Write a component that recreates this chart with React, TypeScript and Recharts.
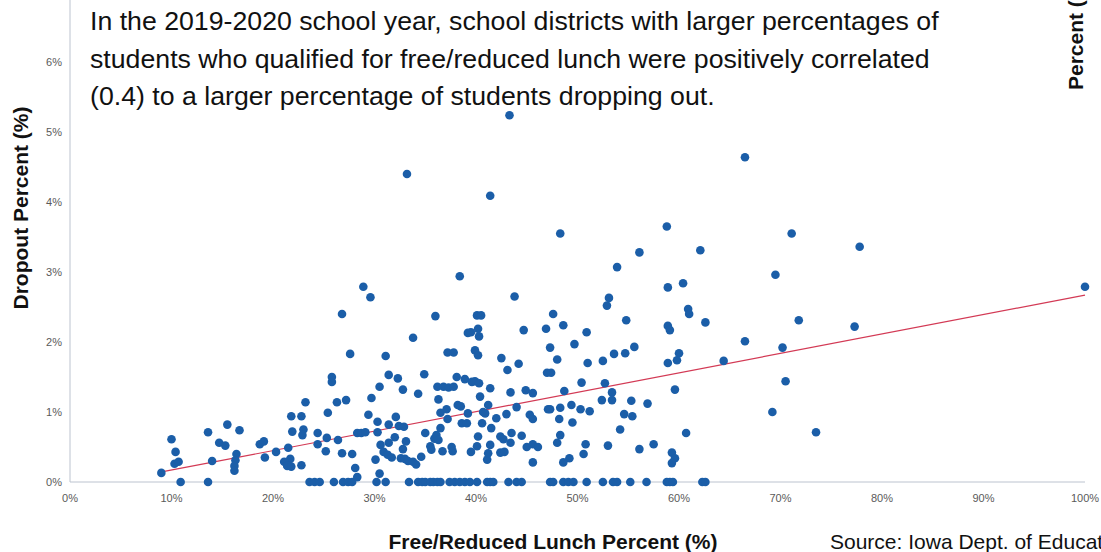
import React from 'react';
import { ScatterChart, Scatter, XAxis, YAxis, ReferenceLine } from 'recharts';

// x = free/reduced lunch %, y = dropout %
const zeroDropoutLunch = [
  10.9, 13.6, 23.6, 24.1, 24.6, 26.0, 26.9, 27.4, 27.8, 30.2, 31.1, 33.4, 34.3, 34.7, 35.0, 35.5,
  35.8, 36.2, 36.5, 37.4, 37.9, 38.4, 38.9, 39.4, 40.1, 41.1, 41.4, 41.7, 43.2, 44.0, 44.5, 47.3,
  47.6, 48.6, 49.1, 49.6, 50.9, 52.5, 53.5, 53.9, 55.2, 56.8, 58.8, 59.1, 59.4, 62.3, 62.6,
];

const lowerDistricts: [number, number][] = [
  [9.0, 0.13], [10.0, 0.61], [10.4, 0.43], [10.3, 0.26], [10.7, 0.29], [13.6, 0.71], [14.0, 0.3],
  [14.7, 0.56], [15.3, 0.52], [15.5, 0.82], [16.7, 0.74], [16.4, 0.4], [16.3, 0.31], [16.2, 0.23],
  [16.2, 0.16], [18.7, 0.54], [19.1, 0.58], [19.2, 0.35], [20.3, 0.43], [21.5, 0.49], [21.7, 0.33],
  [21.1, 0.29], [21.4, 0.23], [21.8, 0.22], [22.8, 0.24], [21.8, 0.94], [22.8, 0.94], [21.9, 0.72],
  [23.0, 0.75], [22.9, 0.67], [23.2, 1.14], [24.4, 0.7], [24.4, 0.54], [25.2, 0.44], [25.4, 0.99],
  [25.3, 0.63], [25.8, 1.43], [25.8, 1.5], [26.3, 1.14], [26.4, 0.6], [27.2, 1.17], [26.8, 0.41],
  [27.8, 0.4], [28.1, 0.2], [28.3, 0.07], [28.3, 0.7], [28.7, 0.7], [29.1, 0.71], [29.7, 1.2],
  [29.4, 0.96], [30.5, 1.36], [30.3, 0.86], [30.3, 0.71], [30.6, 0.53], [30.9, 0.43], [30.1, 0.32],
  [30.5, 0.12], [31.4, 0.82], [32.1, 0.93], [31.3, 0.39], [31.7, 0.35], [32.0, 0.64], [32.4, 0.8],
  [32.9, 0.79], [32.8, 1.32], [32.3, 1.48], [31.4, 0.56], [32.8, 0.47], [33.1, 0.58], [32.6, 0.34],
  [33.0, 0.33], [33.3, 0.3], [33.8, 0.29], [34.1, 0.25], [34.3, 1.26], [35.0, 0.7], [34.6, 0.36],
  [35.5, 0.51], [35.9, 0.62], [36.1, 0.67], [36.3, 0.6], [36.5, 0.77], [36.3, 1.18], [36.2, 1.36],
  [36.8, 1.36], [37.3, 1.35], [37.8, 1.36], [36.5, 0.99], [37.1, 1.04], [37.2, 0.9], [35.6, 0.46],
  [36.7, 0.44], [37.6, 0.5], [37.7, 0.44], [38.2, 1.1], [38.5, 1.08], [38.6, 0.84], [39.1, 0.84],
  [39.2, 0.98], [39.5, 0.43], [40.1, 0.51], [39.6, 1.43], [40.4, 1.22], [40.7, 1.0], [40.9, 0.98],
  [40.2, 0.65], [41.2, 1.1], [41.4, 1.34], [41.4, 0.53], [41.1, 0.32], [40.6, 0.84], [41.5, 0.77],
];

const upperDistricts: [number, number][] = [
  [28.9, 2.79], [29.6, 2.64], [26.8, 2.4], [36.0, 2.37], [39.2, 2.13], [33.8, 2.06], [27.6, 1.83],
  [31.1, 1.8], [37.2, 1.85], [37.8, 1.85], [31.4, 1.53], [34.9, 1.54], [38.1, 1.5], [38.9, 1.47],
  [38.4, 2.94], [43.8, 2.65], [40.1, 2.38], [40.5, 2.38], [39.5, 2.14], [40.2, 2.19], [40.3, 2.08],
  [44.7, 2.17], [39.9, 1.88], [40.2, 1.81], [42.5, 1.77], [43.1, 1.6], [44.2, 1.69], [39.9, 1.44],
  [40.3, 1.41], [33.2, 4.4], [41.4, 4.09], [43.3, 5.24],
];

const higherLunchDistricts: [number, number][] = [
  [48.3, 3.55], [58.8, 3.65], [62.1, 3.31], [56.1, 3.28], [53.9, 3.07], [71.1, 3.55], [69.5, 2.96],
  [58.9, 2.78], [60.4, 2.84], [53.1, 2.63], [52.9, 2.52], [60.9, 2.47], [61.0, 2.4], [62.6, 2.28],
  [47.6, 2.4], [46.9, 2.19], [48.6, 2.24], [47.3, 1.92], [49.7, 1.97], [50.9, 2.14], [54.8, 2.31],
  [55.6, 1.93], [54.7, 1.84], [53.6, 1.83], [52.5, 1.73], [51.0, 1.7], [48.0, 1.75], [47.0, 1.56],
  [47.4, 1.56], [50.4, 1.42], [52.7, 1.41], [58.9, 2.23], [59.1, 2.17], [58.9, 1.7], [60.0, 1.84],
  [59.8, 1.74], [64.4, 1.73], [66.5, 2.01], [70.2, 1.92], [70.5, 1.44], [71.8, 2.31], [59.6, 1.32],
  [66.5, 4.64], [77.8, 3.36], [100, 2.79], [77.3, 2.22], [56.9, 1.12], [69.2, 1.0], [60.7, 0.7],
  [73.5, 0.71], [57.5, 0.54], [43.4, 1.28], [44.9, 1.31], [45.6, 1.27], [48.7, 1.3], [53.4, 1.28],
  [52.4, 1.17], [53.4, 1.17], [55.3, 1.16], [54.6, 0.97], [55.4, 0.94], [54.2, 0.75], [56.1, 0.47],
  [53.0, 0.52], [59.3, 0.42], [59.6, 0.34], [59.3, 0.27], [50.8, 0.54], [50.6, 0.4], [49.2, 0.34],
  [48.6, 0.28], [48.3, 0.67], [48.0, 0.56], [48.2, 0.9], [48.3, 1.06], [49.5, 0.85], [49.4, 1.1],
  [50.3, 1.04], [51.2, 1.01], [47.1, 1.04], [47.3, 1.04], [45.3, 0.96], [45.6, 0.9], [44.0, 1.07],
  [43.0, 0.97], [42.0, 0.91], [43.5, 0.7], [44.5, 0.66], [43.4, 0.56], [42.4, 0.65], [42.7, 0.61],
  [45.0, 0.5], [45.6, 0.54], [46.1, 0.5], [42.4, 0.42], [42.8, 0.43], [41.2, 0.41], [45.6, 0.28],
];

// trendline ends
const trendStart = { x: 8.9, y: 0.14 };
const trendEnd = { x: 100, y: 2.67 };

const xTicks = [0, 10, 20, 30, 40, 50, 60, 70, 80, 90, 100];
const yTicks = [0, 1, 2, 3, 4, 5, 6, 7];

const titleLines = [
  'In the 2019-2020 school year, school districts with larger percentages of',
  'students who qualified for free/reduced lunch were positively correlated',
  '(0.4) to a larger percentage of students dropping out.',
];

const DOT = '#1b5ea8';
const AXIS = '#bcc3cf';
const FONT = '"Liberation Sans", Arial, sans-serif';

const points = [
  ...zeroDropoutLunch.map((x) => ({ x, y: 0 })),
  ...lowerDistricts.map(([x, y]) => ({ x, y })),
  ...upperDistricts.map(([x, y]) => ({ x, y })),
  ...higherLunchDistricts.map(([x, y]) => ({ x, y })),
];

const Dot = (props: any) => <circle cx={props.cx} cy={props.cy} r={4.3} fill={DOT} />;

export default function App() {
  const tickStyle = { fontSize: 11, fill: '#5a5a5a', fontFamily: FONT };
  return (
    <div style={{ position: 'absolute', left: 0, top: 0, width: 1101, height: 552, overflow: 'hidden', background: '#fff' }}>
      <div style={{ position: 'absolute', left: 0, top: -40 }}>
        <ScatterChart width={1101} height={600} margin={{ top: 32, right: 16, bottom: 48, left: 10 }}>
          <XAxis
            type="number"
            dataKey="x"
            domain={[0, 100]}
            ticks={xTicks}
            tickFormatter={(v) => `${v}%`}
            tick={tickStyle}
            tickLine={false}
            tickSize={0}
            tickMargin={12}
            height={30}
            stroke={AXIS}
            interval={0}
          />
          <YAxis
            type="number"
            dataKey="y"
            domain={[0, 7]}
            ticks={yTicks}
            tickFormatter={(v) => `${v}%`}
            tick={tickStyle}
            tickLine={false}
            tickSize={0}
            tickMargin={8}
            width={60}
            stroke={AXIS}
            interval={0}
          />
          <ReferenceLine
            segment={[trendStart, trendEnd]}
            stroke="#d33a55"
            strokeWidth={1.2}
            ifOverflow="visible"
          />
          <Scatter data={points} shape={<Dot />} isAnimationActive={false} />
        </ScatterChart>
      </div>
      <svg width={1101} height={552} style={{ position: 'absolute', left: 0, top: 0, pointerEvents: 'none' }}>
        {titleLines.map((line, i) => (
          <text key={i} x={90} y={30 + i * 37.5} fontSize={26.7} fontFamily={FONT} fill="#111">
            {line}
          </text>
        ))}
        <text
          transform="translate(28,208) rotate(-90)"
          textAnchor="middle"
          fontSize={21}
          fontWeight="bold"
          fontFamily={FONT}
          fill="#111"
        >
          Dropout Percent (%)
        </text>
        <text x={553} y={549} textAnchor="middle" fontSize={21} fontWeight="bold" fontFamily={FONT} fill="#111">
          Free/Reduced Lunch Percent (%)
        </text>
        <text x={830} y={549} fontSize={21} fontFamily={FONT} fill="#111">
          Source: Iowa Dept. of Education
        </text>
        <text transform="translate(1083,90) rotate(-90)" fontSize={21} fontWeight="bold" fontFamily={FONT} fill="#111">
          Percent (%)
        </text>
      </svg>
    </div>
  );
}
